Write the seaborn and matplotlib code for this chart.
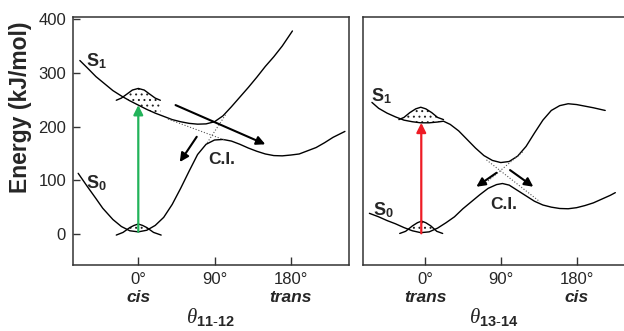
import numpy as np
import matplotlib
matplotlib.use('Agg')
import matplotlib.pyplot as plt
import seaborn as sns

# Potential energy curves (angle in degrees, energy in kJ/mol)

# left panel: theta 11-12
left_s1_x = [-69, -60, -50, -40, -30, -20, -10, 0, 10, 20, 30, 40, 50, 60, 70, 80, 90, 100, 110, 120, 130, 140, 150, 160, 170, 182]
left_s1_y = [323, 309, 293, 280, 267, 257, 248, 240, 232, 225, 219, 213, 209, 206, 204.5, 205, 209, 220, 237, 255, 273, 292, 312, 330, 350, 378]
left_s0_x = [-71, -60, -50, -42, -30, -20, -10, 0, 10, 20, 30, 40, 50, 60, 70, 80, 90, 100, 110, 120, 130, 140, 150, 160, 170, 180, 190, 200, 210, 220, 230, 244]
left_s0_y = [113, 88, 66, 48, 27, 14, 6, 4, 7, 16, 31, 55, 85, 117, 148, 167, 175, 176, 173, 167, 160, 154, 149, 146, 145.5, 147, 149, 155, 161, 170, 180, 191]
left_dot1 = ([35, 102], [214, 175])
left_dot2 = ([103, 81], [222, 169])
left_pk1_x = [-26, -20, -13, -7, 0, 7, 13, 20, 26]
left_pk1_y = [249, 253, 261, 268, 271, 268, 261, 253, 249]
left_pk0_x = [-26, -18, -10, -5, 0, 5, 10, 18, 27]
left_pk0_y = [-2, 3, 12, 16, 18.6, 16, 12, 3, -2]
left_excite = ([0, 4], [0, 240])
left_arrows = [([44, 240], [150, 167]), ([69, 181], [49, 134])]
left_labels = {'S1': (-49, 321), 'S0': (-50, 95), 'CI': (98.5, 138)}
left_words = {0: 'cis', 180: 'trans'}

# right panel: theta 13-14
right_s1_x = [-63, -55, -45, -35, -25, -15, -5, 5, 15, 22, 30, 40, 50, 60, 70, 80, 90, 100, 110, 120, 130, 140, 150, 160, 170, 180, 190, 200, 214]
right_s1_y = [245, 234, 225, 218, 212, 209, 207, 207, 208.5, 210, 204, 192, 176, 160, 146, 137, 133, 135, 145, 163, 188, 212, 230, 239, 242.5, 241, 238, 235, 230]
right_s0_x = [-66, -55, -45, -35, -25, -15, -5, 5, 15, 25, 35, 45, 55, 65, 75, 85, 92, 100, 110, 120, 130, 140, 150, 160, 170, 180, 190, 200, 210, 220, 226]
right_s0_y = [38.5, 32, 25, 19, 12, 6, 2.5, 4, 11, 21, 32, 47, 60, 73, 85, 92, 94, 91, 81, 71, 61, 54, 50, 47.5, 47, 49, 53, 58, 65, 72, 77]
right_dot1 = ([73, 136.5], [138, 60])
right_dot2 = ([116, 72], [153, 95])
right_pk1_x = [-31, -25, -18, -11, -5, 1, 8, 15, 22]
right_pk1_y = [213, 217, 226, 233, 236, 233, 226, 217, 213]
right_pk0_x = [-30, -23, -15, -9, -4, 1, 7, 14, 21]
right_pk0_y = [1, 5, 15, 21, 24, 21, 15, 5, 1]
right_excite = ([-4.4, 1.3], [-4.4, 207])
right_arrows = [([85, 114], [61, 88]), ([101, 119], [128.6, 88])]
right_labels = {'S1': (-51.5, 256), 'S0': (-50, 45), 'CI': (93, 55)}
right_words = {0: 'trans', 180: 'cis'}

xticks = [0, 90, 180]
xtick_labels = ['0°', '90°', '180°']
yticks = [0, 100, 200, 300, 400]

sns.set_style('ticks')
plt.rcParams['font.family'] = ['Liberation Sans', 'DejaVu Sans']
plt.rcParams['mathtext.fontset'] = 'custom'
plt.rcParams['mathtext.rm'] = 'Liberation Sans'
plt.rcParams['mathtext.bf'] = 'Liberation Sans:bold'
plt.rcParams['mathtext.it'] = 'Liberation Serif:italic'
plt.rcParams['hatch.linewidth'] = 0.7

fig = plt.figure(figsize=(6.24, 3.31), dpi=100)
ax1 = fig.add_axes([73 / 624, 66 / 331, 276 / 624, 248 / 331])
ax2 = fig.add_axes([363 / 624, 66 / 331, 262 / 624, 248 / 331])


def curve(ax, x, y, **kw):
    sns.lineplot(x=x, y=y, ax=ax, sort=False, estimator=None, **kw)


def packet(ax, px, py, sx, sy):
    base = np.interp(px, sx, sy)
    top = np.array(py, dtype=float)
    ax.fill_between(px, base, top, where=top >= base, interpolate=True,
                    facecolor='none', edgecolor='#222222', hatch='...', lw=0)
    curve(ax, px, py, color='k', lw=1)


def panel(ax, s1x, s1y, s0x, s0y, dots, pk1, pk0, excite, ex_color, arrows,
          labels, words, theta, xlim):
    curve(ax, s1x, s1y, color='k', lw=1)
    curve(ax, s0x, s0y, color='k', lw=1)
    for dx, dy in dots:
        curve(ax, dx, dy, color='#555555', lw=0.8, linestyle=':')
    packet(ax, pk1[0], pk1[1], s1x, s1y)
    packet(ax, pk0[0], pk0[1], s0x, s0y)
    ax.annotate('', xy=excite[1], xytext=excite[0],
                arrowprops=dict(arrowstyle='-|>', color=ex_color, lw=1.6,
                                mutation_scale=14, shrinkA=0, shrinkB=0))
    for a, b in arrows:
        ax.annotate('', xy=b, xytext=a,
                    arrowprops=dict(arrowstyle='-|>', color='k', lw=1.5,
                                    mutation_scale=13, shrinkA=0, shrinkB=0))
    ax.text(*labels['S1'], r'$\mathbf{S}_{\mathbf{1}}$', fontsize=13, ha='center', va='center')
    ax.text(*labels['S0'], r'$\mathbf{S}_{\mathbf{0}}$', fontsize=13, ha='center', va='center')
    ax.text(*labels['CI'], 'C.I.', fontsize=12.5, fontweight='bold', ha='center', va='center')

    ax.set_xlim(*xlim)
    ax.set_ylim(-57.7, 404)
    ax.set_xticks(xticks)
    ax.set_xticklabels(xtick_labels, fontsize=12)
    ax.tick_params(axis='x', direction='in', length=6, width=1, pad=5, color='#333333')
    for pos, w in words.items():
        ax.text(pos, -0.148, w, transform=ax.get_xaxis_transform(), fontsize=12.5,
                fontweight='bold', fontstyle='italic', ha='center', va='baseline')
    ax.text(0.5, -0.235, theta, transform=ax.transAxes, fontsize=15,
            ha='center', va='baseline')
    for sp in ax.spines.values():
        sp.set_visible(True)
        sp.set_color('#333333')
        sp.set_linewidth(1.1)
    ax.set_xlabel('')
    ax.set_ylabel('')


panel(ax1, left_s1_x, left_s1_y, left_s0_x, left_s0_y, [left_dot1, left_dot2],
      (left_pk1_x, left_pk1_y), (left_pk0_x, left_pk0_y), left_excite, '#22b35a',
      left_arrows, left_labels, left_words, r'$\theta_{\mathbf{11}\text{-}\mathbf{12}}$', (-77.1, 248.8))
panel(ax2, right_s1_x, right_s1_y, right_s0_x, right_s0_y, [right_dot1, right_dot2],
      (right_pk1_x, right_pk1_y), (right_pk0_x, right_pk0_y), right_excite, '#ee1c25',
      right_arrows, right_labels, right_words, r'$\theta_{\mathbf{13}\text{-}\mathbf{14}}$', (-73.6, 237.5))

ax1.set_yticks(yticks)
ax1.set_yticklabels([str(v) for v in yticks], fontsize=12)
ax1.tick_params(axis='y', direction='in', length=5, width=1, pad=5, color='#333333')
ax1.set_ylabel('Energy (kJ/mol)', fontsize=16.5, fontweight='bold')
ax1.yaxis.set_label_coords(-0.148, 0.635)
ax2.set_yticks([])

fig.savefig('out.png', dpi=100)
